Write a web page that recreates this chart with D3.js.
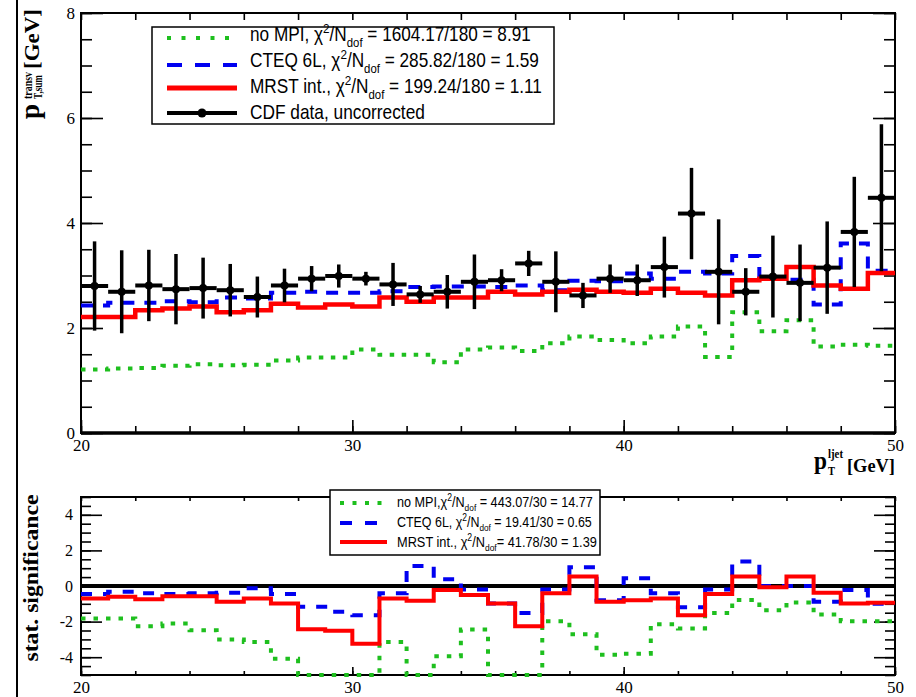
<!DOCTYPE html>
<html>
<head>
<meta charset="utf-8">
<script src="https://cdn.jsdelivr.net/npm/d3@7/dist/d3.min.js"></script>
<style>
  body { margin: 0; background: #fff; }
  svg { display: block; }
</style>
</head>
<body>
<svg id="chart" width="916" height="697"></svg>
<script>
// ---- data -------------------------------------------------------------
// leading-jet pT bin edges [GeV]
const binEdges = [20, 21, 22, 23, 24, 25, 26, 27, 28, 29, 30, 31, 32, 33, 34, 35,
                  36, 37, 38, 39, 40, 41, 42, 43, 44, 45, 46, 47, 48, 49, 50];

// transverse-region pT sum [GeV]
const cdfData = [2.80, 2.69, 2.81, 2.74, 2.76, 2.72, 2.59, 2.81, 2.94, 2.99,
                 2.94, 2.83, 2.64, 2.69, 2.88, 2.91, 3.23, 2.88, 2.62, 2.94,
                 2.91, 3.16, 4.18, 3.07, 2.69, 2.98, 2.86, 3.15, 3.83, 4.48];
const cdfErr  = [0.85, 0.79, 0.68, 0.67, 0.58, 0.50, 0.39, 0.32, 0.24, 0.22,
                 0.13, 0.41, 0.16, 0.32, 0.52, 0.21, 0.24, 0.58, 0.24, 0.27,
                 0.30, 0.58, 0.87, 1.00, 0.45, 0.78, 0.73, 0.88, 1.05, 1.40];
const noMpiSum = [1.21, 1.23, 1.24, 1.28, 1.31, 1.29, 1.30, 1.38, 1.44, 1.44,
                  1.59, 1.49, 1.49, 1.35, 1.59, 1.63, 1.56, 1.71, 1.84, 1.77,
                  1.71, 1.84, 2.03, 1.45, 2.30, 1.94, 2.15, 1.65, 1.68, 1.66];
const cteqSum  = [2.43, 2.48, 2.48, 2.51, 2.49, 2.58, 2.56, 2.67, 2.69, 2.67,
                  2.67, 2.70, 2.78, 2.79, 2.79, 2.78, 2.81, 2.72, 2.90, 2.89,
                  3.04, 2.94, 3.07, 3.04, 3.37, 2.97, 2.92, 2.45, 3.61, 3.09];
const mrstSum  = [2.21, 2.21, 2.34, 2.37, 2.41, 2.30, 2.34, 2.46, 2.39, 2.45,
                  2.41, 2.58, 2.50, 2.58, 2.58, 2.69, 2.64, 2.69, 2.73, 2.69,
                  2.67, 2.75, 2.67, 2.62, 2.91, 2.94, 3.16, 2.81, 2.75, 3.05];

// statistical significance of (model - data) per bin
const noMpiSig = [-1.83, -1.83, -2.26, -2.11, -2.49, -3.01, -3.14, -4.09, -5.00, -5.00,
                  -5.00, -3.14, -5.00, -3.95, -2.45, -5.00, -5.00, -1.98, -2.71, -3.86,
                  -3.80, -2.15, -2.39, -1.51, -0.79, -1.36, -0.92, -1.60, -1.98, -1.98];
const cteqSig  = [-0.45, -0.32, -0.41, -0.45, -0.41, -0.38, -0.13, -0.45, -1.17, -1.45,
                  -1.64, -0.41, 1.13, 0.38, -0.19, -0.98, -1.51, -0.19, 1.05, -0.80,
                  0.43, -0.41, -1.20, -0.19, 1.37, 0.00, 0.00, -0.89, -0.23, -1.00];
const mrstSig  = [-0.70, -0.60, -0.75, -0.57, -0.57, -0.89, -0.70, -0.98, -2.43, -2.52,
                  -3.24, -0.70, -0.83, -0.23, -0.51, -0.98, -2.26, -0.41, 0.53, -0.89,
                  -0.80, -0.70, -1.64, -0.45, 0.53, -0.07, 0.53, -0.38, -0.98, -0.94];

// axis ticks
const xMajorTicks = [20, 30, 40, 50];
const xMinorTicks = [20, 22, 24, 26, 28, 30, 32, 34, 36, 38, 40, 42, 44, 46, 48, 50];
const yTopMajor = [0, 2, 4, 6, 8];
const yTopMinor = [0, 0.5, 1, 1.5, 2, 2.5, 3, 3.5, 4, 4.5, 5, 5.5, 6, 6.5, 7, 7.5, 8];
const yBotMajor = [-4, -2, 0, 2, 4];
const yBotMinor = [-5, -4.5, -4, -3.5, -3, -2.5, -2, -1.5, -1, -0.5, 0, 0.5, 1, 1.5, 2, 2.5, 3, 3.5, 4, 4.5, 5];

// legend entries
const topLegend = [
  { name: "no MPI, ", chi: " = 1604.17/180 = 8.91" },
  { name: "CTEQ 6L, ", chi: " = 285.82/180 = 1.59" },
  { name: "MRST int., ", chi: " = 199.24/180 = 1.11" }
];
const botLegend = [
  { name: "no MPI,", chi: " = 443.07/30 = 14.77" },
  { name: "CTEQ 6L, ", chi: " = 19.41/30 = 0.65" },
  { name: "MRST int., ", chi: "= 41.78/30 = 1.39" }
];

// ---- styles -----------------------------------------------------------
const GREEN = "#1ebf1e", BLUE = "#0000f0", RED = "#ff0000";
const SERIF = "'Liberation Serif','Times New Roman',serif";
const SANS = "'Liberation Sans',Arial,Helvetica,sans-serif";

const svg = d3.select("#chart");
svg.append("rect").attr("width", 916).attr("height", 697).attr("fill", "#fff");

// page margin rule
svg.append("line").attr("x1", 17).attr("x2", 17).attr("y1", 0).attr("y2", 697)
  .attr("stroke", "#000").attr("stroke-width", 2);

// ---- scales -----------------------------------------------------------
const x = d3.scaleLinear().domain([20, 50]).range([81, 895]);
const yTop = d3.scaleLinear().domain([0, 8]).range([433, 13]);
const yBot = d3.scaleLinear().domain([-5, 5]).range([675, 497]).clamp(true);

function stepPoints(vals) {
  const pts = vals.map((v, i) => [binEdges[i], v]);
  pts.push([binEdges[vals.length], vals[vals.length - 1]]);
  return pts;
}
function stepLine(ys) {
  return d3.line().x(d => x(d[0])).y(d => ys(d[1])).curve(d3.curveStepAfter);
}
function drawHist(g, ys, vals, color, width, dash) {
  g.append("path")
    .attr("d", stepLine(ys)(stepPoints(vals)))
    .attr("fill", "none")
    .attr("stroke", color)
    .attr("stroke-width", width)
    .attr("stroke-dasharray", dash || null)
    .attr("stroke-linejoin", "miter")
    .attr("stroke-linecap", "butt");
}

// squeeze a text horizontally (in its own frame) so that it spans `len` px
function fitWidth(group, textSel, len) {
  const w = textSel.node().getComputedTextLength();
  textSel.attr("transform", `scale(${len / w},1)`);
  return group;
}

function styleAxis(g, size) {
  g.select(".domain").remove();
  g.selectAll(".tick line").attr("stroke", "#000").attr("stroke-width", 1.6);
  g.selectAll(".tick text").attr("fill", "#000")
    .style("font-family", SERIF).style("font-size", size + "px");
}
const plainFmt = d => String(d);

// frame with ticks on all four sides
function drawFrame(ys, yMajor, yMinor, top, bottom, opts) {
  const g = svg.append("g");
  // left
  g.append("g").attr("transform", `translate(${x(20)},0)`)
    .call(d3.axisLeft(ys).tickValues(yMinor).tickSize(-opts.yMinorLen).tickFormat(""))
    .call(a => styleAxis(a, 16));
  g.append("g").attr("transform", `translate(${x(20)},0)`)
    .call(d3.axisLeft(ys).tickValues(yMajor).tickSizeInner(-opts.yMajorLen).tickSizeOuter(0)
      .tickPadding(opts.yPad).tickFormat(plainFmt))
    .call(a => styleAxis(a, opts.yFont));
  // right
  g.append("g").attr("transform", `translate(${x(50)},0)`)
    .call(d3.axisRight(ys).tickValues(yMinor).tickSize(-opts.yMinorLen).tickFormat(""))
    .call(a => styleAxis(a, 16));
  g.append("g").attr("transform", `translate(${x(50)},0)`)
    .call(d3.axisRight(ys).tickValues(yMajor).tickSize(-opts.yMajorLen).tickFormat(""))
    .call(a => styleAxis(a, 16));
  // bottom
  g.append("g").attr("transform", `translate(0,${bottom})`)
    .call(d3.axisBottom(x).tickValues(xMinorTicks).tickSize(-opts.xMinorLen).tickFormat(""))
    .call(a => styleAxis(a, 16));
  g.append("g").attr("transform", `translate(0,${bottom})`)
    .call(d3.axisBottom(x).tickValues(xMajorTicks).tickSizeInner(-opts.xMajorLen).tickSizeOuter(0)
      .tickPadding(opts.xPad).tickFormat(plainFmt))
    .call(a => styleAxis(a, 17));
  // top
  g.append("g").attr("transform", `translate(0,${top})`)
    .call(d3.axisTop(x).tickValues(xMinorTicks).tickSize(-opts.xMinorLen).tickFormat(""))
    .call(a => styleAxis(a, 16));
  // box
  g.append("rect").attr("x", x(20)).attr("y", top)
    .attr("width", x(50) - x(20)).attr("height", bottom - top)
    .attr("fill", "none").attr("stroke", "#000").attr("stroke-width", 2);
  g.append("line").attr("x1", x(20)).attr("x2", x(50)).attr("y1", bottom).attr("y2", bottom)
    .attr("stroke", "#000").attr("stroke-width", opts.bottomWidth);
  return g;
}

// ---- upper panel --------------------------------------------------------
drawFrame(yTop, yTopMajor, yTopMinor, yTop(8), yTop(0),
  { yMinorLen: 11, yMajorLen: 22, yPad: 6, yFont: 17, xMinorLen: 7, xMajorLen: 13, xPad: 6, bottomWidth: 3.5 });

const upper = svg.append("g");
drawHist(upper, yTop, noMpiSum, GREEN, 4, "4.5,7.5");
drawHist(upper, yTop, cteqSum, BLUE, 4, "12,10");
drawHist(upper, yTop, mrstSum, RED, 4.5);

// CDF data: bin-width bars, error bars, markers
const pts = upper.append("g");
cdfData.forEach((v, i) => {
  const x0 = x(binEdges[i]), x1 = x(binEdges[i + 1]), xc = (x0 + x1) / 2;
  pts.append("line").attr("x1", x0).attr("x2", x1).attr("y1", yTop(v)).attr("y2", yTop(v))
    .attr("stroke", "#000").attr("stroke-width", 4);
  pts.append("line").attr("x1", xc).attr("x2", xc)
    .attr("y1", yTop(v - cdfErr[i])).attr("y2", yTop(v + cdfErr[i]))
    .attr("stroke", "#000").attr("stroke-width", 3.5);
  pts.append("circle").attr("cx", xc).attr("cy", yTop(v)).attr("r", 4).attr("fill", "#000");
});

// ---- lower panel --------------------------------------------------------
drawFrame(yBot, yBotMajor, yBotMinor, yBot(5), yBot(-5),
  { yMinorLen: 10, yMajorLen: 21, yPad: 8, yFont: 16, xMinorLen: 4, xMajorLen: 8, xPad: 6, bottomWidth: 2 });

const lower = svg.append("g");
lower.append("line").attr("x1", x(20)).attr("x2", x(50)).attr("y1", yBot(0)).attr("y2", yBot(0))
  .attr("stroke", "#000").attr("stroke-width", 4);
drawHist(lower, yBot, noMpiSig, GREEN, 4, "4.5,8");
drawHist(lower, yBot, cteqSig, BLUE, 4, "11,11");
drawHist(lower, yBot, mrstSig, RED, 4);

// ---- legends ------------------------------------------------------------
function chiLabel(g, x0, y0, entry, size, len, subShift) {
  const holder = g.append("g").attr("transform", `translate(${x0},${y0})`);
  const t = holder.append("text").attr("x", 0).attr("y", 0)
    .style("font-family", SANS).style("font-size", size + "px").attr("fill", "#000");
  t.append("tspan").text(entry.name + "\u03c7");
  t.append("tspan").attr("dy", -0.42 * size).style("font-size", (0.68 * size) + "px").text("2");
  t.append("tspan").attr("dy", 0.42 * size).text("/N");
  t.append("tspan").attr("dy", subShift * size).style("font-size", (0.66 * size) + "px").text("dof");
  t.append("tspan").attr("dy", -subShift * size).text(entry.chi);
  fitWidth(holder, t, len);
}
function plainLabel(g, x0, y0, str, style, len) {
  const holder = g.append("g").attr("transform", `translate(${x0},${y0})`);
  const t = holder.append("text").attr("x", 0).attr("y", 0).attr("fill", "#000").text(str);
  Object.entries(style).forEach(([k, v]) => t.style(k, v));
  fitWidth(holder, t, len);
  return holder;
}
function sample(g, x0, x1, y0, color, width, dash) {
  g.append("line").attr("x1", x0).attr("x2", x1).attr("y1", y0).attr("y2", y0)
    .attr("stroke", color).attr("stroke-width", width)
    .attr("stroke-dasharray", dash || null);
}

const lt = svg.append("g");
lt.append("rect").attr("x", 152).attr("y", 27).attr("width", 402).attr("height", 97)
  .attr("fill", "#fff").attr("stroke", "#000").attr("stroke-width", 1.5);
sample(lt, 167, 237, 38, GREEN, 4, "4,10.5");
sample(lt, 167, 237, 65, BLUE, 4, "15,13");
sample(lt, 167, 237, 88, RED, 5);
sample(lt, 167, 237, 113, "#000", 4);
lt.append("circle").attr("cx", 202).attr("cy", 113).attr("r", 4.5).attr("fill", "#000");
const topLens = [281, 289, 292];
topLegend.forEach((e, i) => chiLabel(lt, 250, 41 + 26 * i, e, 20, topLens[i], 0.3));
plainLabel(lt, 250, 119, "CDF data, uncorrected", { "font-family": SANS, "font-size": "20px" }, 175);

const lb = svg.append("g");
lb.append("rect").attr("x", 330).attr("y", 490).attr("width", 270).attr("height", 65)
  .attr("fill", "#fff").attr("stroke", "#000").attr("stroke-width", 1.5);
sample(lb, 340, 387, 503, GREEN, 4, "4,8.5");
sample(lb, 340, 387, 523, BLUE, 4, "12,13");
sample(lb, 340, 387, 542, RED, 4);
const botLens = [196, 195, 200];
botLegend.forEach((e, i) => chiLabel(lb, 397, 507 + 20 * i, e, 15, botLens[i], 0.25));

// ---- axis titles --------------------------------------------------------
const boldSerif = s => ({ "font-family": SERIF, "font-weight": "bold", "font-size": s + "px" });

// upper y title: p^{transv}_{T,sum} [GeV]
const yt = svg.append("g").attr("transform", "translate(39,127) rotate(-90)");
plainLabel(yt, 8, 0, "p", boldSerif(28), 15);
plainLabel(yt, 28, -7, "transv", boldSerif(13), 27);
plainLabel(yt, 28, 3, "T,sum", boldSerif(12), 24);
plainLabel(yt, 58, 0, "[GeV]", boldSerif(22), 60);

// upper x title: p^{ljet}_T [GeV]
const xt = svg.append("g");
plainLabel(xt, 814, 469, "p", boldSerif(25), 13);
plainLabel(xt, 828, 458, "ljet", boldSerif(13), 15);
plainLabel(xt, 828, 475, "T", boldSerif(12), 7);
plainLabel(xt, 847, 472, "[GeV]", boldSerif(19), 48);

// lower y title
const st = svg.append("g").attr("transform", "translate(38,578) rotate(-90)");
plainLabel(st, -83.5, 0, "stat. significance", boldSerif(22), 167);
</script>
</body>
</html>
